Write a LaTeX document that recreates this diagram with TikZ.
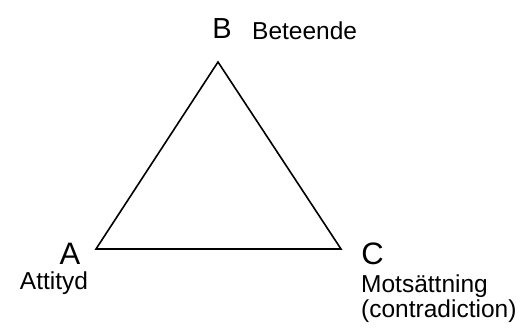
\documentclass[tikz,border=0pt]{standalone}
\usepackage{fontspec}
\setmainfont{Liberation Sans}
\begin{document}
\begin{tikzpicture}[x=1pt,y=1pt,
  vertexlabel/.style={inner sep=0pt,font=\fontsize{31}{34}\selectfont},
  toplabel/.style={inner sep=0pt,font=\fontsize{29}{32}\selectfont},
  desclabel/.style={inner sep=0pt,font=\fontsize{24.5}{28}\selectfont},
  edge/.style={line width=1.6pt,line join=miter}]
\useasboundingbox (0,0) rectangle (532,331);
\coordinate (pa) at (96,82);
\coordinate (pb) at (218,269);
\coordinate (pc) at (341,82);
\draw[edge] (pa) -- (pb) -- (pc) -- cycle;
\node[toplabel,anchor=base] (lb) at (222,292) {B};
\node[desclabel,anchor=base west] (tb) at (252,291) {Beteende};
\node[vertexlabel,anchor=base] (la) at (70,66) {A};
\node[desclabel,anchor=base] (ta) at (54,41) {Attityd};
\node[vertexlabel,anchor=base] (lc) at (372.5,66) {C};
\node[desclabel,anchor=base west] (tc) at (361,38) {Motsättning};
\node[desclabel,anchor=base west] (td) at (361,13) {(contradiction)};
\end{tikzpicture}
\end{document}
